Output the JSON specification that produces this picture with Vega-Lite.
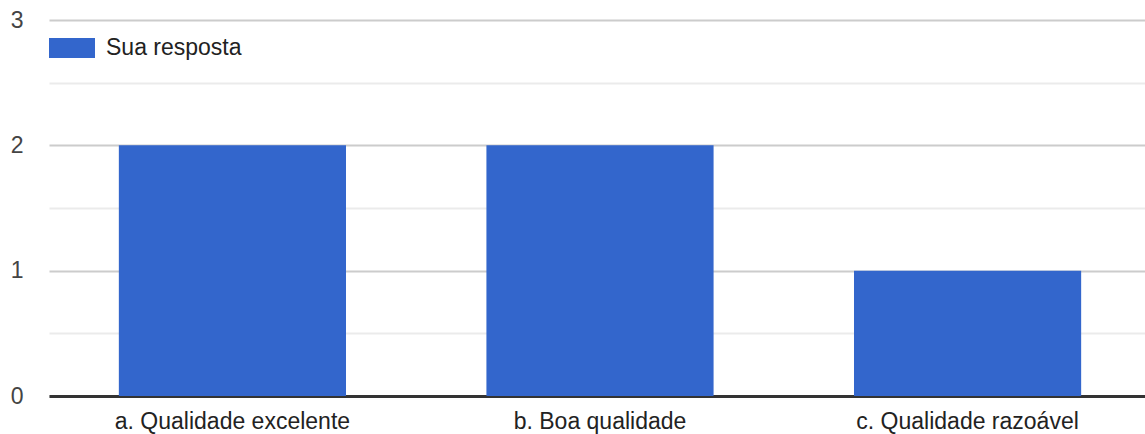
{
  "$schema": "https://vega.github.io/schema/vega-lite/v6.json",
  "width": 1102,
  "height": 376,
  "autosize": {"type": "none"},
  "padding": {"left": 49, "top": 20, "right": 0, "bottom": 38},
  "background": "white",
  "config": {
    "view": {"stroke": null},
    "font": "Liberation Sans"
  },
  "data": {
    "values": [
      {"opcao": "a. Qualidade excelente", "respostas": 2, "serie": "Sua resposta"},
      {"opcao": "b. Boa qualidade", "respostas": 2, "serie": "Sua resposta"},
      {"opcao": "c. Qualidade razoável", "respostas": 1, "serie": "Sua resposta"}
    ]
  },
  "mark": {"type": "bar", "color": "#3366cc"},
  "encoding": {
    "x": {
      "field": "opcao",
      "type": "nominal",
      "sort": null,
      "scale": {"paddingInner": 0.382, "paddingOuter": 0.19},
      "axis": {
        "title": null,
        "labelAngle": 0,
        "labelFontSize": 23,
        "labelColor": "#222222",
        "labelPadding": 14,
        "labelLimit": 0,
        "ticks": false,
        "domainColor": "#333333",
        "domainWidth": 3,
        "grid": false
      }
    },
    "y": {
      "field": "respostas",
      "type": "quantitative",
      "scale": {"domain": [0, 3], "nice": false},
      "axis": {
        "title": null,
        "values": [0, 0.5, 1, 1.5, 2, 2.5, 3],
        "labelExpr": "datum.value % 1 === 0 ? format(datum.value, 'd') : ''",
        "labelFontSize": 23,
        "labelColor": "#444444",
        "labelAlign": "right",
        "labelPadding": 26,
        "ticks": false,
        "domain": false,
        "gridColor": {"condition": {"test": "datum.value % 1 === 0", "value": "#cccccc"}, "value": "#ebebeb"},
        "gridWidth": 2
      }
    },
    "fill": {
      "field": "serie",
      "type": "nominal",
      "scale": {"range": ["#3366cc"]},
      "legend": {
        "title": null,
        "orient": "none",
        "legendX": 0,
        "legendY": 5,
        "symbolType": "M-1,-0.4348H1V0.4348H-1Z",
        "symbolSize": 2116,
        "symbolStrokeWidth": 0,
        "symbolOpacity": 1,
        "labelFontSize": 23,
        "labelColor": "#222222",
        "labelOffset": 11,
        "labelLimit": 0
      }
    }
  }
}
